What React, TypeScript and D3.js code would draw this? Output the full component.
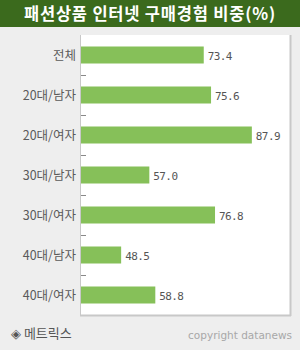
import React from 'react';
import * as d3 from 'd3';

const categories = ['전체', '20대/남자', '20대/여자', '30대/남자', '30대/여자', '40대/남자', '40대/여자'];
const values = [73.4, 75.6, 87.9, 57.0, 76.8, 48.5, 58.8];
const valueDomain = [36.4, 99.4];

const W = 300;
const H = 350;
const plot = { left: 80, right: 290, top: 35, bottom: 315 };

export default function App() {
  const y = d3.scaleBand<string>()
    .domain(categories)
    .range([plot.top, plot.bottom])
    .paddingInner(0.575)
    .paddingOuter(0.2875);
  const x = d3.scaleLinear().domain(valueDomain).range([plot.left + 1, plot.right]);
  const step = y.step();
  const kfont = '"Noto Sans CJK KR", "DejaVu Sans", sans-serif';

  return (
    <div style={{ position: 'fixed', left: 0, top: 0 }}>
      <svg width={W} height={H} style={{ display: 'block' }}>
        <rect width={W} height={H} fill="#eeeeee" />
        <rect width={W} height={27} fill="#3b6a1d" />
        <text x={W / 2} y={19.5} textAnchor="middle" fill="#fff" fontFamily={kfont}
          fontSize={16.5} fontWeight="bold" letterSpacing={0.8}>
          패션상품 인터넷 구매경험 비중(%)
        </text>

        <rect x={plot.left} y={plot.top} width={plot.right - plot.left} height={plot.bottom - plot.top} fill="#fff" />
        <line x1={plot.left + 0.5} x2={plot.left + 0.5} y1={plot.top} y2={plot.bottom} stroke="#c8c8c8" />
        <line x1={plot.right + 0.5} x2={plot.right + 0.5} y1={plot.top} y2={plot.bottom + 1} stroke="#c8c8c8" strokeWidth={2} />
        <line x1={plot.left} x2={plot.right + 1} y1={plot.bottom + 0.5} y2={plot.bottom + 0.5} stroke="#c8c8c8" strokeWidth={2} />

        {categories.slice(1).map((c) => (
          <line key={'t' + c} x1={plot.left + 1} x2={plot.left + 6}
            y1={Math.round((y(c) as number) - (step - y.bandwidth()) / 2) + 0.5}
            y2={Math.round((y(c) as number) - (step - y.bandwidth()) / 2) + 0.5}
            stroke="#888" />
        ))}

        {categories.map((c, i) => {
          const by = y(c) as number;
          const cy = by + y.bandwidth() / 2;
          return (
            <g key={c}>
              <rect x={x(valueDomain[0])} y={by} width={x(values[i]) - x(valueDomain[0])} height={y.bandwidth()} fill="#86c059" />
              <text x={76} y={cy + 4.5} textAnchor="end" fill="#5a5a5a" fontFamily={kfont} fontSize={12.5}>{c}</text>
              <text x={x(values[i]) + 4} y={cy + 4.5} fill="#555" fontFamily='"DejaVu Sans Mono", monospace' fontSize={11} letterSpacing={-0.6}>
                {values[i].toFixed(1)}
              </text>
            </g>
          );
        })}

        <text x={11} y={338} fill="#555" fontFamily={kfont} fontSize={13}>◈ 메트릭스</text>
        <text x={292} y={339} textAnchor="end" fill="#a8a8a8" fontFamily='"DejaVu Sans", sans-serif' fontSize={10.5}>copyright datanews</text>
      </svg>
    </div>
  );
}
